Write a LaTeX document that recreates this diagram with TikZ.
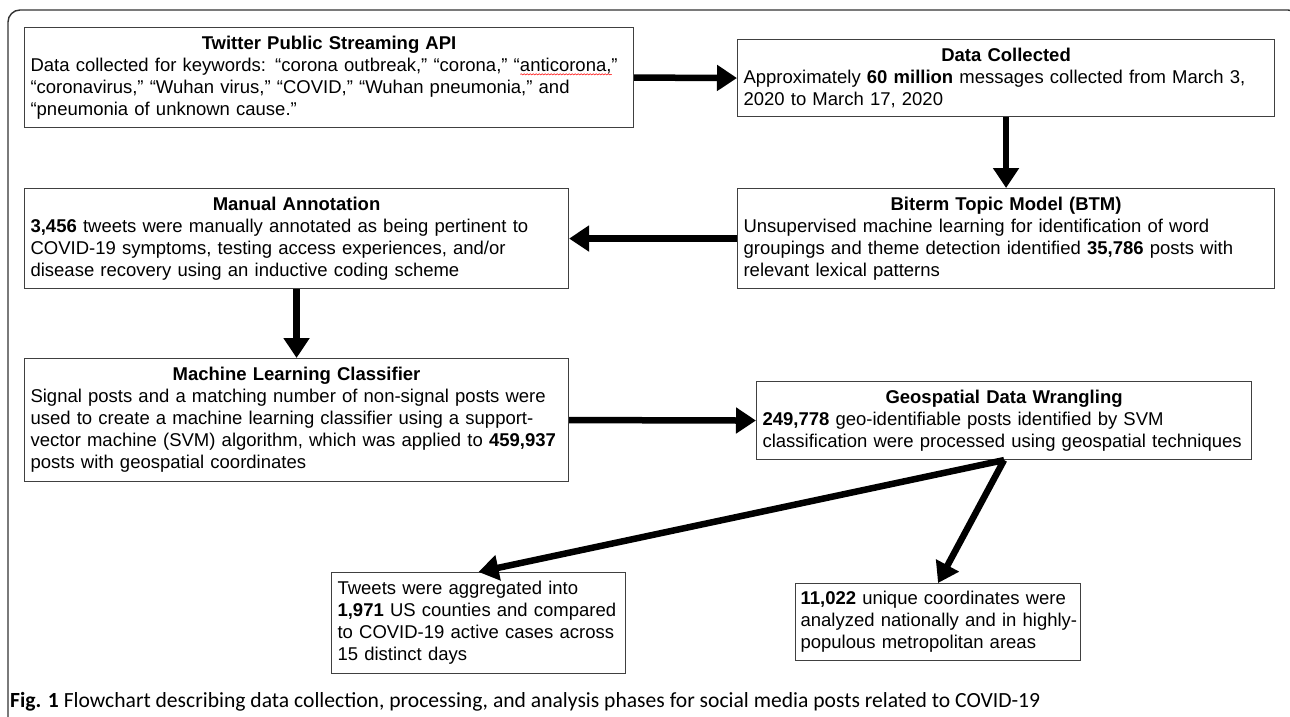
\documentclass[tikz,border=0pt]{standalone}
\usepackage{fontspec}
\setmainfont{Liberation Sans}
\newfontfamily\capfont{Carlito}
\usetikzlibrary{arrows.meta,decorations.pathmorphing}
\newsavebox\wavybox
\newcommand\wavyred[1]{\sbox\wavybox{#1}\rlap{\tikz[baseline=0pt]\draw[red,line width=0.5pt,decorate,decoration={snake,amplitude=0.6pt,segment length=3pt}] (0pt,-3pt) -- (\wd\wavybox,-3pt);}\usebox\wavybox}
\newcommand\boxfont{\fontsize{18.5}{22}\selectfont}
\begin{document}
\begin{tikzpicture}[x=1pt,y=-1pt,
  box/.style={draw=black!75, line width=1.1pt, anchor=north west, align=left,
    inner xsep=6pt, inner ysep=5pt, font=\boxfont},
  arr/.style={line width=6.5pt, -{Triangle[length=20pt,width=25pt]}}]
\useasboundingbox (0,0) rectangle (1290,717);
\fill[white] (0,0) rectangle (1290,717);
\draw[black!80, line width=1.4pt, rounded corners=12pt] (8,730) -- (8,10) -- (1300,10) -- (1300,730);

\node[box, text width=597pt, minimum height=100pt] (b1) at (24,27)
 {{\centering\bfseries Twitter Public Streaming API\par}
  Data collected for keywords: “corona outbreak,” “corona,” “\wavyred{anticorona,}”\\
  “coronavirus,” “Wuhan virus,” “COVID,” “Wuhan pneumonia,” and\\
  “pneumonia of unknown cause.”};

\node[box, text width=525pt, minimum height=77pt] (b2) at (737,39)
 {{\centering\bfseries Data Collected\par}
  Approximately \textbf{60 million} messages collected from March 3,\\
  2020 to March 17, 2020};

\node[box, text width=525pt, minimum height=100pt] (b3) at (737,188)
 {{\centering\bfseries Biterm Topic Model (BTM)\par}
  Unsupervised machine learning for identification of word\\
  groupings and theme detection identified \textbf{35,786} posts with\\
  relevant lexical patterns};

\node[box, text width=532pt, minimum height=100pt] (b4) at (24,188)
 {{\centering\bfseries Manual Annotation\par}
  \textbf{3,456} tweets were manually annotated as being pertinent to\\
  COVID-19 symptoms, testing access experiences, and/or\\
  disease recovery using an inductive coding scheme};

\node[box, text width=532pt, minimum height=123pt] (b5) at (24,358)
 {{\centering\bfseries Machine Learning Classifier\par}
  Signal posts and a matching number of non-signal posts were\\
  used to create a machine learning classifier using a support-\\
  vector machine (SVM) algorithm, which was applied to \textbf{459,937}\\
  posts with geospatial coordinates};

\node[box, text width=483pt, minimum height=78pt] (b6) at (756,381)
 {{\centering\bfseries Geospatial Data Wrangling\par}
  \textbf{249,778} geo-identifiable posts identified by SVM\\
  classification were processed using geospatial techniques};

\node[box, text width=282pt, minimum height=101pt] (b7) at (331,572)
 {Tweets were aggregated into\\
  \textbf{1,971} US counties and compared\\
  to COVID-19 active cases across\\
  15 distinct days};

\node[box, text width=275pt, inner xsep=5pt, minimum height=77pt] (b8) at (795,583)
 {\mbox{\textbf{11,022} unique coordinates were}\\
  \mbox{analyzed nationally and in highly-}\\
  \mbox{populous metropolitan areas}};

\draw[arr] (b1.east) -- (b2.west);
\draw[arr] (b2.south) -- (b3.north);
\draw[arr] (b3.west) -- (b4.east);
\draw[arr] (b4.south) -- (b5.north);
\draw[arr] (b5.east) -- (b6.west);
\draw[arr] (b6.south) -- (b7.north);
\draw[arr] (b6.south) -- (b8.north);

\node[anchor=base west, inner sep=0pt, font=\capfont\fontsize{21.6}{24}\selectfont] (cap) at (10,707)
 {\textbf{Fig. 1} Flowchart describing data collection, processing, and analysis phases for social media posts related to COVID-19};
\end{tikzpicture}
\end{document}
